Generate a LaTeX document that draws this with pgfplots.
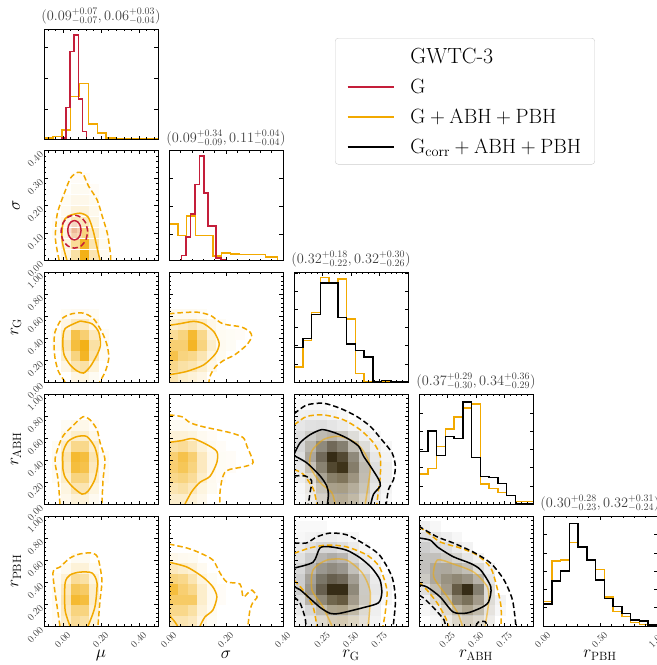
\documentclass[border=0pt]{standalone}
\usepackage{pgfplots}
\pgfplotsset{compat=1.18}
\definecolor{cR}{RGB}{196,30,58}
\definecolor{cY}{RGB}{242,169,0}
\pgfdeclareplotmark{cellr}{\pgfpathrectangle{\pgfpoint{-5.43bp}{-5.24bp}}{\pgfpoint{10.86bp}{10.48bp}}\pgfusepathqfill}
\pgfdeclareplotmark{cellm}{\pgfpathrectangle{\pgfpoint{-4.85bp}{-5.4bp}}{\pgfpoint{9.7bp}{10.8bp}}\pgfusepathqfill}
\pgfdeclareplotmark{cells}{\pgfpathrectangle{\pgfpoint{-2.45bp}{-2.5bp}}{\pgfpoint{4.9bp}{5bp}}\pgfusepathqfill}
\pgfplotsset{
  colormap={rmap}{rgb255=(255,255,255) rgb255=(196,30,58)},
  colormap={kmap}{rgb255=(255,255,255) rgb255=(0,0,0)},
  colormap={ymap}{rgb255=(255,255,255) rgb255=(242,169,0)},
}
\pgfplotsset{
  panel/.style={scale only axis, width=114bp, height=110bp, anchor=north west, axis on top,
    tick align=inside, major tick length=3.5bp, minor tick length=2bp,
    every tick/.style={black, line width=0.5bp}, axis line style={line width=0.8bp},
    xticklabels={}, yticklabels={},
    tick label style={font=\fontsize{10}{12}\selectfont, text=black!75},
    label style={font=\fontsize{18}{21}\selectfont},
    title style={font=\fontsize{14.5}{17}\selectfont, text=black!75, yshift=-5bp},
    xlabel style={at={(axis description cs:0.5,-0.265)}, anchor=center},
    ylabel style={at={(axis description cs:-0.245,0.5)}, anchor=center}},
  hpanel/.style={panel, hide axis},
  xlab/.style={xticklabel style={xshift=3.5bp, rotate=45, anchor=north east}},
  ylab/.style={yticklabel style={rotate=45, anchor=east}},
  muX/.style={xmin=-0.1, xmax=0.5, xtick={0,0.2,0.4}, minor xtick={-0.08,-0.04,0.04,0.08,0.12,0.16,0.24,0.28,0.32,0.36,0.44,0.48}},
  sgX/.style={xmin=0, xmax=0.4, xtick={0,0.2,0.4}, minor xtick={0.04,0.08,0.12,0.16,0.24,0.28,0.32,0.36}},
  rX/.style={xmin=0, xmax=1, xtick={0.25,0.5,0.75}, minor xtick={0.05,0.1,0.15,0.2,0.3,0.35,0.4,0.45,0.55,0.6,0.65,0.7,0.8,0.85,0.9,0.95}},
  sgY/.style={ymin=0, ymax=0.4, ytick={0,0.1,0.2,0.3,0.4}, minor ytick={0.02,0.04,0.06,0.08,0.12,0.14,0.16,0.18,0.22,0.24,0.26,0.28,0.32,0.34,0.36,0.38}},
  rY/.style={ymin=0, ymax=1, ytick={0,0.2,0.4,0.6,0.8,1}, minor ytick={0.04,0.08,0.12,0.16,0.24,0.28,0.32,0.36,0.44,0.48,0.52,0.56,0.64,0.68,0.72,0.76,0.84,0.88,0.92,0.96}},
  rYl/.style={rY, ylab, yticklabels={0.00,0.20,0.40,0.60,0.80,1.00}},
  heat/.style={forget plot, only marks, scatter, mark=cellm,
    scatter/use mapped color={draw=mapped color, fill=mapped color}, point meta=explicit,
    point meta min=0, point meta max=1, colormap name=ymap},
  rheat/.style={heat, mark=cellr},
  kheat/.style={heat, mark=cellr, colormap name=kmap, scatter/use mapped color={draw=mapped color, fill=mapped color, fill opacity=0.78}},
  hst/.style={forget plot, const plot, line width=1.5bp, no markers},
  cs/.style={forget plot, smooth, tension=0.45, line width=1.5bp, no markers},
  cd/.style={cs, dash pattern=on 5.5bp off 3bp},
}
\begin{document}
\begin{tikzpicture}
\useasboundingbox (0,0) rectangle (657bp,-665bp);

%%%%%%%%%%%%%%%% Row 1
\begin{axis}[panel, at={(44bp,-29bp)}, muX, ymin=0, ymax=330, ytick={90,182,275},
  title={$(0.09^{+0.07}_{-0.07}, 0.06^{+0.03}_{-0.04})$},
  legend style={at={(2.553,0.918)}, anchor=north west, draw=black!20, rounded corners=3bp, fill=white,
    font=\fontsize{22}{26}\selectfont, inner xsep=11.5bp, inner ysep=7.5bp, row sep=10.5bp,
    /tikz/every odd column/.append style={column sep=14bp}},
  legend cell align=left,
  legend image code/.code={\draw[#1] (0bp,0bp) -- (46bp,0bp);}]
\addplot[hst, cY] coordinates {(-0.1,3) (-0.0532,7) (-0.0065,27) (0.0403,127) (0.0871,167) (0.1339,45) (0.1806,18) (0.2274,3) (0.274,2) (0.5,2)};
\addplot[hst, cR] coordinates {(-0.005,0) (-0.005,3) (0.0165,94) (0.0377,262) (0.0589,312) (0.0818,120) (0.103,22) (0.124,0)};
\addlegendimage{empty legend}\addlegendentry{GWTC-3}
\addlegendimage{cR, line width=1.7bp}\addlegendentry{$\mathrm{G}$}
\addlegendimage{cY, line width=1.7bp}\addlegendentry{$\mathrm{G+ABH+PBH}$}
\addlegendimage{black, line width=1.7bp}\addlegendentry{$\mathrm{G_{corr}+ABH+PBH}$}
\end{axis}

%%%%%%%%%%%%%%%% Row 2
\begin{axis}[hpanel, at={(44bp,-150.5bp)}, muX, sgY]
\addplot[heat] table[meta=v, row sep=\\] {x y v\\
0.015 0.02 0.1\\ 0.065 0.02 0.35\\ 0.115 0.02 0.9\\ 0.165 0.02 0.3\\ 0.215 0.02 0.06\\
0.015 0.06 0.12\\ 0.065 0.06 0.4\\ 0.115 0.06 0.85\\ 0.165 0.06 0.3\\ 0.215 0.06 0.05\\
-0.035 0.10 0.04\\ 0.015 0.10 0.12\\ 0.065 0.10 0.45\\ 0.115 0.10 0.5\\ 0.165 0.10 0.22\\ 0.215 0.10 0.04\\
-0.035 0.14 0.03\\ 0.015 0.14 0.1\\ 0.065 0.14 0.28\\ 0.115 0.14 0.28\\ 0.165 0.14 0.12\\
0.015 0.18 0.06\\ 0.065 0.18 0.14\\ 0.115 0.18 0.14\\ 0.165 0.18 0.07\\
0.015 0.22 0.04\\ 0.065 0.22 0.08\\ 0.115 0.22 0.08\\ 0.165 0.22 0.05\\
0.065 0.26 0.05\\ 0.115 0.26 0.05\\ 0.165 0.26 0.03\\
0.065 0.30 0.03\\ 0.115 0.30 0.03\\
};
\addplot[heat, mark=cells, colormap name=rmap, scatter/use mapped color={draw=mapped color, fill=mapped color, fill opacity=0.5}] table[meta=v, row sep=\\] {x y v\\
0.035 0.09 0.15\\ 0.06 0.09 0.25\\ 0.085 0.09 0.15\\
0.035 0.11 0.25\\ 0.06 0.11 0.45\\ 0.085 0.11 0.25\\
0.035 0.13 0.15\\ 0.06 0.13 0.25\\ 0.085 0.13 0.12\\
};
\end{axis}
\begin{axis}[panel, at={(44bp,-150.5bp)}, muX, sgY, ylab, yticklabels={0.00,0.10,0.20,0.30,0.40}, ylabel={$\sigma$}]
\addplot[cd, cY] coordinates {(-0.02,0) (-0.04,0.08) (-0.03,0.17) (0.01,0.25) (0.04,0.30) (0.075,0.32) (0.105,0.315) (0.135,0.27) (0.18,0.22) (0.207,0.16) (0.233,0.10) (0.249,0.03) (0.251,0)};
\addplot[cs, cY] coordinates {(0.021,0) (-0.005,0.073) (0.0,0.136) (0.026,0.161) (0.089,0.172) (0.132,0.158) (0.158,0.11) (0.179,0.048) (0.195,0)};
\addplot[cd, cR] coordinates {(0.13,0.105) (0.1206,0.135) (0.095,0.157) (0.06,0.165) (0.025,0.157) (-0.0006,0.135) (-0.01,0.105) (-0.0006,0.075) (0.025,0.053) (0.06,0.045) (0.095,0.053) (0.1206,0.075) (0.13,0.105)};
\addplot[cs, cR] coordinates {(0.095,0.11) (0.0903,0.1275) (0.0775,0.1403) (0.06,0.145) (0.0425,0.1403) (0.0297,0.1275) (0.025,0.11) (0.0297,0.0925) (0.0425,0.0797) (0.06,0.075) (0.0775,0.0797) (0.0903,0.0925) (0.095,0.11)};
\end{axis}

\begin{axis}[panel, at={(169bp,-150.5bp)}, sgX, ymin=0, ymax=330, ytick={78,163,248},
  title={$(0.09^{+0.34}_{-0.09}, 0.11^{+0.04}_{-0.04})$}]
\addplot[hst, cY] coordinates {(0,110) (0.0308,75) (0.0615,133) (0.0923,75) (0.154,13) (0.185,23) (0.215,20) (0.246,18) (0.338,11) (0.38,0)};
\addplot[hst, cR] coordinates {(0,0) (0.0443,15) (0.0599,70) (0.0754,140) (0.091,228) (0.1066,313) (0.1222,203) (0.1377,103) (0.1653,8) (0.182,3) (0.2,0)};
\end{axis}

%%%%%%%%%%%%%%%% Row 3
\begin{axis}[hpanel, at={(44bp,-272bp)}, muX, rY]
\addplot[heat] table[meta=v, row sep=\\] {x y v\\
0.065 0.048 0.1\\ 0.115 0.048 0.12\\ 0.165 0.048 0.05\\
0.015 0.143 0.1\\ 0.065 0.143 0.3\\ 0.115 0.143 0.35\\ 0.165 0.143 0.15\\
0.015 0.238 0.2\\ 0.065 0.238 0.5\\ 0.115 0.238 0.85\\ 0.165 0.238 0.3\\ 0.215 0.238 0.04\\
-0.035 0.333 0.05\\ 0.015 0.333 0.3\\ 0.065 0.333 0.75\\ 0.115 0.333 0.9\\ 0.165 0.333 0.35\\ 0.215 0.333 0.05\\
-0.035 0.429 0.04\\ 0.015 0.429 0.2\\ 0.065 0.429 0.7\\ 0.115 0.429 0.55\\ 0.165 0.429 0.25\\ 0.215 0.429 0.04\\
0.015 0.524 0.1\\ 0.065 0.524 0.25\\ 0.115 0.524 0.25\\ 0.165 0.524 0.1\\
0.015 0.619 0.04\\ 0.065 0.619 0.06\\ 0.115 0.619 0.06\\ 0.165 0.619 0.04\\
};
\end{axis}
\begin{axis}[panel, at={(44bp,-272bp)}, muX, rYl, ylabel={$r_{\mathrm{G}}$}]
\addplot[cd, cY] coordinates {(0.011,0) (-0.024,0.096) (-0.042,0.216) (-0.047,0.335) (-0.042,0.455) (-0.006,0.575) (0.0465,0.62) (0.108,0.626) (0.161,0.575) (0.205,0.455) (0.232,0.335) (0.241,0.216) (0.223,0.096) (0.193,0)};
\addplot[cs, cY] coordinates {(0.0906,0.554) (0.152,0.53) (0.188,0.455) (0.197,0.335) (0.179,0.246) (0.1436,0.141) (0.108,0.081) (0.073,0.102) (0.0377,0.156) (0.006,0.246) (-0.001,0.365) (0.011,0.485) (0.0906,0.554)};
\end{axis}

\begin{axis}[hpanel, at={(169bp,-272bp)}, sgX, rY]
\addplot[heat] table[meta=v, row sep=\\] {x y v\\
0.0167 0.048 0.3\\ 0.05 0.048 0.2\\ 0.0833 0.048 0.15\\ 0.1167 0.048 0.1\\
0.0167 0.143 0.45\\ 0.05 0.143 0.35\\ 0.0833 0.143 0.3\\ 0.1167 0.143 0.2\\ 0.15 0.143 0.08\\
0.0167 0.238 0.7\\ 0.05 0.238 0.5\\ 0.0833 0.238 0.45\\ 0.1167 0.238 0.3\\ 0.15 0.238 0.12\\ 0.1833 0.238 0.05\\
0.0167 0.333 0.55\\ 0.05 0.333 0.55\\ 0.0833 0.333 0.85\\ 0.1167 0.333 0.5\\ 0.15 0.333 0.2\\ 0.1833 0.333 0.06\\ 0.2167 0.333 0.04\\
0.0167 0.429 0.4\\ 0.05 0.429 0.5\\ 0.0833 0.429 0.8\\ 0.1167 0.429 0.45\\ 0.15 0.429 0.15\\ 0.1833 0.429 0.05\\ 0.2167 0.429 0.04\\ 0.25 0.429 0.03\\
0.0167 0.524 0.2\\ 0.05 0.524 0.25\\ 0.0833 0.524 0.3\\ 0.1167 0.524 0.2\\ 0.15 0.524 0.08\\ 0.1833 0.524 0.04\\
0.0167 0.619 0.06\\ 0.05 0.619 0.06\\ 0.0833 0.619 0.06\\ 0.1167 0.619 0.04\\
};
\end{axis}
\begin{axis}[panel, at={(169bp,-272bp)}, sgX, rY]
\addplot[cd, cY] coordinates {(0,0.62) (0.038,0.629) (0.098,0.635) (0.146,0.605) (0.188,0.53) (0.254,0.5) (0.284,0.455) (0.29,0.41) (0.272,0.335) (0.23,0.246) (0.194,0.2) (0.164,0.141) (0.146,0.066) (0.14,0)};
\addplot[cs, cY] coordinates {(0,0.515) (0.038,0.53) (0.086,0.551) (0.122,0.53) (0.158,0.455) (0.176,0.35) (0.164,0.26) (0.122,0.156) (0.062,0.096) (0.014,0.072) (0,0.066)};
\end{axis}

\begin{axis}[panel, at={(294bp,-272bp)}, rX, ymin=0, ymax=333, ytick={55,110,165,220,275,330},
  title={$(0.32^{+0.18}_{-0.22}, 0.32^{+0.30}_{-0.26})$}]
\addplot[hst, cY] coordinates {(0,45) (0.0769,125) (0.1538,210) (0.2308,317) (0.3077,300) (0.3846,312) (0.4615,190) (0.5385,25) (0.6154,0) (1,0)};
\addplot[hst, black] coordinates {(0,105) (0.0769,132) (0.1538,205) (0.2308,300) (0.3077,300) (0.3846,195) (0.4615,115) (0.5385,95) (0.6154,75) (0.6923,0) (0.7692,5) (0.8462,0) (1,0)};
\end{axis}

%%%%%%%%%%%%%%%% Row 4
\begin{axis}[hpanel, at={(44bp,-394bp)}, muX, rY]
\addplot[heat] table[meta=v, row sep=\\] {x y v\\
0.015 0.048 0.08\\ 0.065 0.048 0.15\\ 0.115 0.048 0.15\\ 0.165 0.048 0.06\\
0.015 0.143 0.12\\ 0.065 0.143 0.3\\ 0.115 0.143 0.3\\ 0.165 0.143 0.12\\
-0.035 0.238 0.04\\ 0.015 0.238 0.2\\ 0.065 0.238 0.5\\ 0.115 0.238 0.5\\ 0.165 0.238 0.2\\ 0.215 0.238 0.03\\
-0.035 0.333 0.05\\ 0.015 0.333 0.25\\ 0.065 0.333 0.75\\ 0.115 0.333 0.7\\ 0.165 0.333 0.25\\ 0.215 0.333 0.04\\
-0.035 0.429 0.05\\ 0.015 0.429 0.3\\ 0.065 0.429 0.8\\ 0.115 0.429 0.75\\ 0.165 0.429 0.3\\ 0.215 0.429 0.04\\
-0.035 0.524 0.04\\ 0.015 0.524 0.2\\ 0.065 0.524 0.45\\ 0.115 0.524 0.45\\ 0.165 0.524 0.2\\
0.015 0.619 0.1\\ 0.065 0.619 0.2\\ 0.115 0.619 0.2\\ 0.165 0.619 0.08\\
0.015 0.714 0.04\\ 0.065 0.714 0.08\\ 0.115 0.714 0.08\\ 0.165 0.714 0.03\\
};
\end{axis}
\begin{axis}[panel, at={(44bp,-394bp)}, muX, rYl, ylabel={$r_{\mathrm{ABH}}$}]
\addplot[cd, cY] coordinates {(-0.016,0) (-0.026,0.225) (-0.042,0.405) (-0.005,0.604) (0.047,0.703) (0.105,0.793) (0.142,0.766) (0.179,0.676) (0.195,0.559) (0.221,0.405) (0.211,0.225) (0.205,0)};
\addplot[cs, cY] coordinates {(0.0,0.315) (0.0,0.468) (0.026,0.568) (0.074,0.613) (0.126,0.613) (0.168,0.514) (0.184,0.378) (0.168,0.225) (0.132,0.117) (0.1,0.09) (0.047,0.162) (0.011,0.243) (0.0,0.315)};
\end{axis}

\begin{axis}[hpanel, at={(169bp,-394bp)}, sgX, rY]
\addplot[heat] table[meta=v, row sep=\\] {x y v\\
0.0167 0.048 0.2\\ 0.05 0.048 0.2\\ 0.0833 0.048 0.15\\ 0.1167 0.048 0.08\\
0.0167 0.143 0.3\\ 0.05 0.143 0.35\\ 0.0833 0.143 0.25\\ 0.1167 0.143 0.12\\ 0.15 0.143 0.05\\
0.0167 0.238 0.45\\ 0.05 0.238 0.5\\ 0.0833 0.238 0.4\\ 0.1167 0.238 0.2\\ 0.15 0.238 0.06\\ 0.1833 0.238 0.03\\
0.0167 0.333 0.55\\ 0.05 0.333 0.65\\ 0.0833 0.333 0.5\\ 0.1167 0.333 0.25\\ 0.15 0.333 0.08\\ 0.1833 0.333 0.04\\ 0.2167 0.333 0.03\\
0.0167 0.429 0.55\\ 0.05 0.429 0.7\\ 0.0833 0.429 0.55\\ 0.1167 0.429 0.25\\ 0.15 0.429 0.08\\ 0.1833 0.429 0.04\\ 0.2167 0.429 0.03\\
0.0167 0.524 0.35\\ 0.05 0.524 0.4\\ 0.0833 0.524 0.3\\ 0.1167 0.524 0.15\\ 0.15 0.524 0.06\\ 0.1833 0.524 0.03\\
0.0167 0.619 0.15\\ 0.05 0.619 0.15\\ 0.0833 0.619 0.12\\ 0.1167 0.619 0.06\\ 0.15 0.619 0.03\\
0.0167 0.714 0.05\\ 0.05 0.714 0.05\\ 0.0833 0.714 0.04\\
};
\end{axis}
\begin{axis}[panel, at={(169bp,-394bp)}, sgX, rY]
\addplot[cd, cY] coordinates {(0,0.81) (0.046,0.793) (0.074,0.739) (0.119,0.703) (0.214,0.649) (0.26,0.604) (0.274,0.523) (0.295,0.378) (0.267,0.342) (0.214,0.315) (0.196,0.288) (0.186,0.225) (0.179,0.108) (0.179,0)};
\addplot[cs, cY] coordinates {(0,0.56) (0.046,0.577) (0.084,0.595) (0.133,0.54) (0.168,0.477) (0.168,0.378) (0.144,0.252) (0.109,0.198) (0.081,0.117) (0.056,0)};
\end{axis}

\begin{axis}[hpanel, at={(294bp,-394bp)}, rX, rY]
\addplot[rheat] table[meta=v, row sep=\\] {x y v\\
0.143 0.619 0.1\\ 0.238 0.619 0.2\\ 0.333 0.619 0.25\\ 0.429 0.619 0.2\\ 0.524 0.619 0.1\\
0.143 0.524 0.2\\ 0.238 0.524 0.35\\ 0.333 0.524 0.45\\ 0.429 0.524 0.4\\ 0.524 0.524 0.25\\ 0.619 0.524 0.1\\
0.143 0.429 0.25\\ 0.238 0.429 0.45\\ 0.333 0.429 0.6\\ 0.429 0.429 0.6\\ 0.524 0.429 0.4\\ 0.619 0.429 0.2\\
0.143 0.333 0.25\\ 0.238 0.333 0.45\\ 0.333 0.333 0.65\\ 0.429 0.333 0.7\\ 0.524 0.333 0.5\\ 0.619 0.333 0.25\\
0.143 0.238 0.2\\ 0.238 0.238 0.4\\ 0.333 0.238 0.6\\ 0.429 0.238 0.7\\ 0.524 0.238 0.55\\ 0.619 0.238 0.3\\
0.143 0.143 0.15\\ 0.238 0.143 0.3\\ 0.333 0.143 0.55\\ 0.429 0.143 0.65\\ 0.524 0.143 0.5\\ 0.619 0.143 0.3\\
0.143 0.048 0.1\\ 0.238 0.048 0.25\\ 0.333 0.048 0.5\\ 0.429 0.048 0.6\\ 0.524 0.048 0.5\\ 0.619 0.048 0.3\\
};
\addplot[kheat] table[meta=v, row sep=\\] {x y v\\
0.048 0.905 0.03\\ 0.143 0.905 0.03\\ 0.238 0.905 0.03\\
0.048 0.810 0.07\\ 0.143 0.810 0.08\\ 0.238 0.810 0.08\\ 0.333 0.810 0.06\\ 0.429 0.810 0.04\\
0.048 0.714 0.12\\ 0.143 0.714 0.15\\ 0.238 0.714 0.16\\ 0.333 0.714 0.13\\ 0.429 0.714 0.1\\ 0.524 0.714 0.06\\ 0.619 0.714 0.04\\
0.048 0.619 0.16\\ 0.143 0.619 0.25\\ 0.238 0.619 0.32\\ 0.333 0.619 0.35\\ 0.429 0.619 0.28\\ 0.524 0.619 0.16\\ 0.619 0.619 0.08\\ 0.714 0.619 0.04\\
0.048 0.524 0.2\\ 0.143 0.524 0.35\\ 0.238 0.524 0.55\\ 0.333 0.524 0.7\\ 0.429 0.524 0.6\\ 0.524 0.524 0.32\\ 0.619 0.524 0.16\\ 0.714 0.524 0.08\\ 0.810 0.524 0.04\\
0.048 0.429 0.16\\ 0.143 0.429 0.42\\ 0.238 0.429 0.7\\ 0.333 0.429 1.0\\ 0.429 0.429 0.85\\ 0.524 0.429 0.55\\ 0.619 0.429 0.28\\ 0.714 0.429 0.12\\ 0.810 0.429 0.06\\
0.048 0.333 0.12\\ 0.143 0.333 0.28\\ 0.238 0.333 0.58\\ 0.333 0.333 0.85\\ 0.429 0.333 0.95\\ 0.524 0.333 0.6\\ 0.619 0.333 0.32\\ 0.714 0.333 0.16\\ 0.810 0.333 0.08\\
0.048 0.238 0.08\\ 0.143 0.238 0.16\\ 0.238 0.238 0.42\\ 0.333 0.238 0.58\\ 0.429 0.238 0.62\\ 0.524 0.238 0.48\\ 0.619 0.238 0.3\\ 0.714 0.238 0.16\\ 0.810 0.238 0.08\\
0.048 0.143 0.04\\ 0.143 0.143 0.1\\ 0.238 0.143 0.26\\ 0.333 0.143 0.42\\ 0.429 0.143 0.42\\ 0.524 0.143 0.36\\ 0.619 0.143 0.26\\ 0.714 0.143 0.12\\ 0.810 0.143 0.06\\
0.048 0.048 0.03\\ 0.143 0.048 0.08\\ 0.238 0.048 0.2\\ 0.333 0.048 0.36\\ 0.429 0.048 0.36\\ 0.524 0.048 0.3\\ 0.619 0.048 0.2\\ 0.714 0.048 0.1\\ 0.810 0.048 0.04\\
};
\end{axis}
\begin{axis}[panel, at={(294bp,-394bp)}, rX, rY]
\addplot[cd, cY] coordinates {(0,0.72) (0.023,0.736) (0.111,0.796) (0.258,0.81) (0.434,0.766) (0.58,0.676) (0.698,0.556) (0.757,0.435) (0.757,0.255) (0.742,0.135) (0.727,0)};
\addplot[cd, cY] coordinates {(0,0.315) (0.082,0.27) (0.17,0.135) (0.2,0)};
\addplot[cs, cY, opacity=0.55] coordinates {(0.36,0) (0.331,0.105) (0.229,0.195) (0.141,0.345) (0.155,0.48) (0.258,0.586) (0.39,0.616) (0.522,0.57) (0.61,0.48) (0.669,0.345) (0.654,0.195) (0.625,0)};
\addplot[cd, black] coordinates {(0,0.82) (0.111,0.9) (0.258,0.916) (0.405,0.87) (0.55,0.796) (0.669,0.706) (0.757,0.6) (0.86,0.465) (0.889,0.345) (0.874,0.225) (0.83,0.135) (0.809,0)};
\addplot[cd, black] coordinates {(0,0.255) (0.097,0.255) (0.155,0.21) (0.141,0.105) (0.126,0)};
\addplot[cs, black] coordinates {(0,0.45) (0.053,0.556) (0.141,0.63) (0.243,0.676) (0.346,0.652) (0.463,0.6) (0.566,0.526) (0.61,0.435) (0.669,0.345) (0.742,0.225) (0.757,0.165) (0.698,0.09) (0.674,0)};
\addplot[cs, black] coordinates {(0,0.44) (0.111,0.375) (0.229,0.255) (0.287,0.165) (0.302,0.09) (0.293,0)};
\end{axis}

\begin{axis}[panel, at={(419bp,-394bp)}, rX, ymin=0, ymax=332, ytick={55,110,165,220,275,330},
  title={$(0.37^{+0.29}_{-0.30}, 0.34^{+0.36}_{-0.29})$}]
\addplot[hst, cY] coordinates {(0,90) (0.0769,107) (0.1538,173) (0.2308,227) (0.3077,263) (0.3846,290) (0.4615,302) (0.5385,60) (0.6154,47) (0.6923,35) (0.7692,25) (0.8462,8) (1,8)};
\addplot[hst, black] coordinates {(0,158) (0.0769,220) (0.1538,147) (0.2308,203) (0.3077,198) (0.3846,308) (0.4615,140) (0.5385,83) (0.6154,80) (0.6923,62) (0.7692,25) (0.8462,0) (1,0)};
\end{axis}

%%%%%%%%%%%%%%%% Row 5
\begin{axis}[hpanel, at={(44bp,-516bp)}, muX, rY]
\addplot[heat] table[meta=v, row sep=\\] {x y v\\
-0.035 0.048 0.03\\ 0.015 0.048 0.2\\ 0.065 0.048 0.4\\ 0.115 0.048 0.35\\ 0.165 0.048 0.12\\
-0.035 0.143 0.04\\ 0.015 0.143 0.25\\ 0.065 0.143 0.5\\ 0.115 0.143 0.5\\ 0.165 0.143 0.15\\
-0.035 0.238 0.05\\ 0.015 0.238 0.3\\ 0.065 0.238 0.8\\ 0.115 0.238 0.75\\ 0.165 0.238 0.2\\
-0.035 0.333 0.05\\ 0.015 0.333 0.25\\ 0.065 0.333 0.65\\ 0.115 0.333 0.6\\ 0.165 0.333 0.2\\
-0.035 0.429 0.03\\ 0.015 0.429 0.15\\ 0.065 0.429 0.4\\ 0.115 0.429 0.35\\ 0.165 0.429 0.12\\
0.015 0.524 0.06\\ 0.065 0.524 0.15\\ 0.115 0.524 0.15\\ 0.165 0.524 0.05\\
0.065 0.619 0.05\\ 0.115 0.619 0.05\\
};
\end{axis}
\begin{axis}[panel, at={(44bp,-516bp)}, muX, rYl, xlab, xticklabels={0.00,0.20,0.40}, ylabel={$r_{\mathrm{PBH}}$}, xlabel={$\mu$}]
\addplot[cd, cY] coordinates {(-0.016,0) (-0.026,0.118) (-0.053,0.482) (-0.016,0.536) (0.037,0.618) (0.089,0.655) (0.153,0.664) (0.184,0.618) (0.205,0.418) (0.195,0.236) (0.184,0)};
\addplot[cs, cY] coordinates {(0.037,0) (0.011,0.145) (0.011,0.39) (0.037,0.464) (0.089,0.49) (0.153,0.482) (0.179,0.39) (0.168,0.173) (0.132,0)};
\end{axis}

\begin{axis}[hpanel, at={(169bp,-516bp)}, sgX, rY]
\addplot[heat] table[meta=v, row sep=\\] {x y v\\
0.0167 0.048 0.3\\ 0.05 0.048 0.3\\ 0.0833 0.048 0.25\\ 0.1167 0.048 0.1\\ 0.15 0.048 0.04\\
0.0167 0.143 0.45\\ 0.05 0.143 0.45\\ 0.0833 0.143 0.35\\ 0.1167 0.143 0.15\\ 0.15 0.143 0.05\\
0.0167 0.238 0.6\\ 0.05 0.238 0.6\\ 0.0833 0.238 0.6\\ 0.1167 0.238 0.2\\ 0.15 0.238 0.06\\ 0.1833 0.238 0.03\\
0.0167 0.333 0.75\\ 0.05 0.333 0.55\\ 0.0833 0.333 0.45\\ 0.1167 0.333 0.2\\ 0.15 0.333 0.06\\ 0.1833 0.333 0.03\\
0.0167 0.429 0.5\\ 0.05 0.429 0.45\\ 0.0833 0.429 0.3\\ 0.1167 0.429 0.12\\ 0.15 0.429 0.04\\
0.0167 0.524 0.25\\ 0.05 0.524 0.2\\ 0.0833 0.524 0.15\\ 0.1167 0.524 0.06\\
0.0167 0.619 0.08\\ 0.05 0.619 0.06\\ 0.0833 0.619 0.05\\
};
\end{axis}
\begin{axis}[panel, at={(169bp,-516bp)}, sgX, rY, xlab, xticklabels={0.00,0.20,0.40}, xlabel={$\sigma$}]
\addplot[cd, cY] coordinates {(0,0.745) (0.063,0.709) (0.109,0.664) (0.154,0.6) (0.179,0.482) (0.203,0.4) (0.249,0.382) (0.26,0.264) (0.277,0.3) (0.291,0.327) (0.309,0.264) (0.295,0.218) (0.284,0.145) (0.277,0)};
\addplot[cs, cY] coordinates {(0,0.58) (0.063,0.536) (0.119,0.445) (0.154,0.355) (0.168,0.264) (0.154,0.145) (0.126,0.082) (0.109,0)};
\addplot[cs, cY] coordinates {(0,0.1) (0.02,0.04) (0.03,0)};
\end{axis}

\begin{axis}[hpanel, at={(294bp,-516bp)}, rX, rY]
\addplot[rheat] table[meta=v, row sep=\\] {x y v\\
0.238 0.048 0.3\\ 0.333 0.048 0.55\\ 0.429 0.048 0.65\\ 0.524 0.048 0.5\\ 0.619 0.048 0.25\\
0.238 0.143 0.35\\ 0.333 0.143 0.6\\ 0.429 0.143 0.7\\ 0.524 0.143 0.5\\ 0.619 0.143 0.25\\
0.143 0.238 0.25\\ 0.238 0.238 0.45\\ 0.333 0.238 0.65\\ 0.429 0.238 0.7\\ 0.524 0.238 0.45\\ 0.619 0.238 0.2\\
0.143 0.333 0.25\\ 0.238 0.333 0.45\\ 0.333 0.333 0.6\\ 0.429 0.333 0.6\\ 0.524 0.333 0.4\\ 0.619 0.333 0.15\\
0.143 0.429 0.2\\ 0.238 0.429 0.35\\ 0.333 0.429 0.45\\ 0.429 0.429 0.45\\ 0.524 0.429 0.3\\ 0.619 0.429 0.1\\
0.143 0.524 0.1\\ 0.238 0.524 0.2\\ 0.333 0.524 0.3\\ 0.429 0.524 0.25\\ 0.524 0.524 0.15\\
0.238 0.619 0.1\\ 0.333 0.619 0.12\\ 0.429 0.619 0.1\\
};
\addplot[kheat] table[meta=v, row sep=\\] {x y v\\
0.048 0.905 0.03\\ 0.143 0.905 0.03\\ 0.238 0.905 0.03\\
0.048 0.810 0.04\\ 0.143 0.810 0.06\\ 0.238 0.810 0.08\\ 0.333 0.810 0.08\\ 0.429 0.810 0.06\\ 0.524 0.810 0.04\\
0.048 0.714 0.1\\ 0.143 0.714 0.15\\ 0.238 0.714 0.2\\ 0.333 0.714 0.2\\ 0.429 0.714 0.16\\ 0.524 0.714 0.1\\ 0.619 0.714 0.05\\
0.048 0.619 0.15\\ 0.143 0.619 0.25\\ 0.238 0.619 0.35\\ 0.333 0.619 0.4\\ 0.429 0.619 0.35\\ 0.524 0.619 0.2\\ 0.619 0.619 0.1\\ 0.714 0.619 0.04\\
0.048 0.524 0.2\\ 0.143 0.524 0.35\\ 0.238 0.524 0.5\\ 0.333 0.524 0.55\\ 0.429 0.524 0.5\\ 0.524 0.524 0.3\\ 0.619 0.524 0.16\\ 0.714 0.524 0.06\\
0.048 0.429 0.25\\ 0.143 0.429 0.45\\ 0.238 0.429 0.65\\ 0.333 0.429 0.75\\ 0.429 0.429 0.7\\ 0.524 0.429 0.45\\ 0.619 0.429 0.25\\ 0.714 0.429 0.1\\ 0.810 0.429 0.04\\
0.048 0.333 0.25\\ 0.143 0.333 0.5\\ 0.238 0.333 0.75\\ 0.333 0.333 1.0\\ 0.429 0.333 1.0\\ 0.524 0.333 0.55\\ 0.619 0.333 0.25\\ 0.714 0.333 0.12\\ 0.810 0.333 0.05\\
0.048 0.238 0.16\\ 0.143 0.238 0.35\\ 0.238 0.238 0.55\\ 0.333 0.238 0.7\\ 0.429 0.238 0.75\\ 0.524 0.238 0.45\\ 0.619 0.238 0.25\\ 0.714 0.238 0.1\\ 0.810 0.238 0.04\\
0.048 0.143 0.1\\ 0.143 0.143 0.2\\ 0.238 0.143 0.3\\ 0.333 0.143 0.4\\ 0.429 0.143 0.4\\ 0.524 0.143 0.3\\ 0.619 0.143 0.16\\ 0.714 0.143 0.08\\
0.048 0.048 0.06\\ 0.143 0.048 0.12\\ 0.238 0.048 0.16\\ 0.333 0.048 0.2\\ 0.429 0.048 0.2\\ 0.524 0.048 0.16\\ 0.619 0.048 0.12\\ 0.714 0.048 0.06\\
};
\end{axis}
\begin{axis}[panel, at={(294bp,-516bp)}, rX, rY, xlab, xticklabels={0.25,0.50,0.75}, xlabel={$r_{\mathrm{G}}$}]
\addplot[cd, cY] coordinates {(0,0.66) (0.14,0.71) (0.29,0.736) (0.46,0.72) (0.64,0.645) (0.75,0.536) (0.815,0.327) (0.8,0.118) (0.78,0)};
\addplot[cd, cY] coordinates {(0,0.417) (0.08,0.326) (0.167,0.175) (0.2,0)};
\addplot[cs, cY, opacity=0.55] coordinates {(0.333,0) (0.254,0.173) (0.158,0.327) (0.167,0.51) (0.29,0.6) (0.46,0.6) (0.6,0.48) (0.67,0.3) (0.65,0)};
\addplot[cd, black] coordinates {(0,0.755) (0.11,0.755) (0.2,0.81) (0.316,0.845) (0.46,0.83) (0.6,0.755) (0.75,0.645) (0.86,0.445) (0.89,0.236) (0.87,0)};
\addplot[cd, black] coordinates {(0,0.264) (0.053,0.209) (0.096,0.08) (0.105,0)};
\addplot[cs, black] coordinates {(0,0.527) (0.167,0.58) (0.228,0.71) (0.316,0.72) (0.46,0.69) (0.58,0.62) (0.68,0.53) (0.754,0.42) (0.77,0.3) (0.74,0.21) (0.6,0.165) (0.4,0.115) (0.316,0.115) (0.228,0.17) (0.14,0.25) (0.053,0.33) (0,0.355)};
\end{axis}

\begin{axis}[hpanel, at={(419bp,-516bp)}, rX, rY]
\addplot[rheat] table[meta=v, row sep=\\] {x y v\\
0.238 0.048 0.2\\ 0.333 0.048 0.35\\ 0.429 0.048 0.4\\ 0.524 0.048 0.3\\ 0.619 0.048 0.1\\
0.238 0.143 0.3\\ 0.333 0.143 0.45\\ 0.429 0.143 0.55\\ 0.524 0.143 0.4\\ 0.619 0.143 0.15\\
0.143 0.238 0.2\\ 0.238 0.238 0.4\\ 0.333 0.238 0.55\\ 0.429 0.238 0.6\\ 0.524 0.238 0.45\\ 0.619 0.238 0.15\\
0.143 0.333 0.25\\ 0.238 0.333 0.45\\ 0.333 0.333 0.6\\ 0.429 0.333 0.6\\ 0.524 0.333 0.4\\ 0.619 0.333 0.12\\
0.048 0.429 0.15\\ 0.143 0.429 0.3\\ 0.238 0.429 0.45\\ 0.333 0.429 0.5\\ 0.429 0.429 0.4\\ 0.524 0.429 0.25\\
0.048 0.524 0.1\\ 0.143 0.524 0.25\\ 0.238 0.524 0.3\\ 0.333 0.524 0.3\\ 0.429 0.524 0.2\\ 0.524 0.524 0.1\\
0.048 0.619 0.08\\ 0.143 0.619 0.12\\ 0.238 0.619 0.15\\ 0.333 0.619 0.12\\
};
\addplot[kheat] table[meta=v, row sep=\\] {x y v\\
0.048 0.905 0.08\\ 0.143 0.905 0.04\\
0.048 0.810 0.16\\ 0.143 0.810 0.12\\ 0.238 0.810 0.08\\ 0.333 0.810 0.04\\
0.048 0.714 0.25\\ 0.143 0.714 0.2\\ 0.238 0.714 0.16\\ 0.333 0.714 0.1\\ 0.429 0.714 0.06\\
0.048 0.619 0.3\\ 0.143 0.619 0.3\\ 0.238 0.619 0.25\\ 0.333 0.619 0.2\\ 0.429 0.619 0.12\\ 0.524 0.619 0.06\\
0.048 0.524 0.3\\ 0.143 0.524 0.4\\ 0.238 0.524 0.4\\ 0.333 0.524 0.35\\ 0.429 0.524 0.3\\ 0.524 0.524 0.16\\ 0.619 0.524 0.08\\
0.048 0.429 0.25\\ 0.143 0.429 0.4\\ 0.238 0.429 0.5\\ 0.333 0.429 0.55\\ 0.429 0.429 0.5\\ 0.524 0.429 0.35\\ 0.619 0.429 0.12\\
0.048 0.333 0.16\\ 0.143 0.333 0.3\\ 0.238 0.333 0.45\\ 0.333 0.333 0.75\\ 0.429 0.333 1.0\\ 0.524 0.333 0.6\\ 0.619 0.333 0.16\\
0.048 0.238 0.08\\ 0.143 0.238 0.16\\ 0.238 0.238 0.3\\ 0.333 0.238 0.55\\ 0.429 0.238 0.65\\ 0.524 0.238 0.45\\ 0.619 0.238 0.16\\ 0.714 0.238 0.06\\
0.048 0.143 0.04\\ 0.143 0.143 0.08\\ 0.238 0.143 0.16\\ 0.333 0.143 0.3\\ 0.429 0.143 0.4\\ 0.524 0.143 0.3\\ 0.619 0.143 0.12\\ 0.714 0.143 0.04\\
0.143 0.048 0.04\\ 0.238 0.048 0.08\\ 0.333 0.048 0.16\\ 0.429 0.048 0.2\\ 0.524 0.048 0.16\\ 0.619 0.048 0.08\\
};
\end{axis}
\begin{axis}[panel, at={(419bp,-516bp)}, rX, rY, xlab, xticklabels={0.25,0.50,0.75}, xlabel={$r_{\mathrm{ABH}}$}]
\addplot[cd, cY] coordinates {(0,0.9) (0.07,0.855) (0.186,0.764) (0.36,0.71) (0.51,0.645) (0.63,0.527) (0.69,0.327) (0.72,0.173) (0.72,0)};
\addplot[cd, cY] coordinates {(0,0.4) (0.07,0.327) (0.16,0.209) (0.23,0.082) (0.26,0)};
\addplot[cs, cY, opacity=0.55] coordinates {(0.38,0) (0.34,0.118) (0.25,0.264) (0.13,0.445) (0.16,0.6) (0.3,0.564) (0.48,0.49) (0.6,0.355) (0.61,0.209) (0.58,0)};
\addplot[cd, black] coordinates {(0,0.91) (0.01,0.9) (0.16,0.81) (0.3,0.755) (0.48,0.67) (0.63,0.57) (0.745,0.42) (0.82,0.236) (0.85,0)};
\addplot[cd, black] coordinates {(0,0.28) (0.04,0.255) (0.13,0.164) (0.22,0.055) (0.23,0)};
\addplot[cd, black] coordinates {(0.5,0) (0.52,0.035) (0.58,0.04) (0.6,0)};
\addplot[cs, black] coordinates {(0,0.8) (0.1,0.78) (0.16,0.72) (0.3,0.63) (0.45,0.57) (0.54,0.51) (0.63,0.355) (0.61,0.218) (0.54,0.164) (0.42,0.118) (0.3,0.127) (0.186,0.264) (0.07,0.355) (0,0.373)};
\end{axis}

\begin{axis}[panel, at={(543bp,-516bp)}, xmin=0, xmax=1, xtick={0,0.5,1}, minor xtick={0.1,0.2,0.3,0.4,0.6,0.7,0.8,0.9},
  xlab, xticklabels={0.00,0.50,1.00}, xlabel={$r_{\mathrm{PBH}}$},
  ymin=0, ymax=331, ytick={55,110,165,220,275,330},
  title={$(0.30^{+0.28}_{-0.23}, 0.32^{+0.31}_{-0.24})$}]
\addplot[hst, cY] coordinates {(0,73) (0.0769,196) (0.1538,198) (0.2308,251) (0.3077,238) (0.3846,198) (0.4615,170) (0.5385,88) (0.6154,43) (0.6923,28) (0.7692,10) (0.8462,5) (0.9231,3) (1,3)};
\addplot[hst, black] coordinates {(0,66) (0.0769,135) (0.1538,166) (0.2308,308) (0.3077,238) (0.3846,198) (0.4615,138) (0.5385,83) (0.6154,58) (0.6923,38) (0.7692,18) (0.8462,15) (0.9231,3) (1,3)};
\end{axis}
\end{tikzpicture}
\end{document}
